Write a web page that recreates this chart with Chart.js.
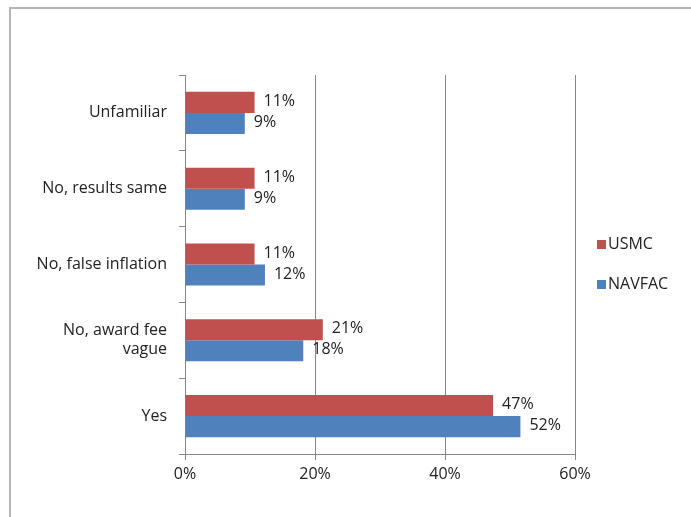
<!DOCTYPE html>
<html>
<head>
<meta charset="utf-8">
<script src="https://cdn.jsdelivr.net/npm/chart.js@4/dist/chart.umd.min.js"></script>
<style>
  body { margin: 0; background: #fff; }
  .wrap { position: relative; width: 691px; height: 517px; }
  .frame { position: absolute; left: 9px; top: 7px; width: 700px; height: 530px;
           border-left: 2px solid #b5b5b5; border-top: 2px solid #b5b5b5; }
  .legend { position: absolute; left: 597px; top: 233px; font: 16px "Open Sans", sans-serif; color: #222; }
  .legend div { height: 20px; line-height: 20px; margin-bottom: 20px; white-space: nowrap; }
  .legend span { display: inline-block; width: 9px; height: 9px; margin-right: 2px; vertical-align: 0; }
  canvas { position: absolute; left: 0; top: 0; }
</style>
</head>
<body>
<div class="wrap">
  <div class="frame"></div>
  <canvas class="my-chart" width="691" height="517"></canvas>
  <div class="legend"></div>
</div>
<script>
const answers = ["Unfamiliar", "No, results same", "No, false inflation", ["No, award fee", "vague"], "Yes"];
const usmc = [10.7, 10.7, 10.7, 21.2, 47.4];
const navfac = [9.2, 9.2, 12.3, 18.2, 51.6];
const seriesNames = ["USMC", "NAVFAC"];
const seriesColors = ["#c0504d", "#4f81bd"];
const tickValues = [0, 20, 40, 60];

const font = { family: "'Open Sans', sans-serif", size: 16 };

// value labels at the end of each bar
const barLabels = {
  id: "barLabels",
  afterDatasetsDraw(chart) {
    const ctx = chart.ctx;
    ctx.save();
    ctx.font = "16px 'Open Sans', sans-serif";
    ctx.fillStyle = "#222";
    ctx.textAlign = "left";
    ctx.textBaseline = "middle";
    chart.data.datasets.forEach((ds, i) => {
      chart.getDatasetMeta(i).data.forEach((bar, j) => {
        ctx.fillText(Math.round(ds.data[j]) + "%", bar.x + 9, bar.y - 1);
      });
    });
    ctx.restore();
  },
};

const myChart = document.querySelector(".my-chart");
new Chart(myChart, {
  type: "bar",
  data: {
    labels: answers,
    datasets: [
      { label: seriesNames[0], data: usmc, backgroundColor: seriesColors[0] },
      { label: seriesNames[1], data: navfac, backgroundColor: seriesColors[1] },
    ],
  },
  options: {
    indexAxis: "y",
    responsive: false,
    animation: false,
    categoryPercentage: 0.555,
    barPercentage: 1,
    layout: { padding: { top: 75, right: 116, left: 0, bottom: 0 } },
    plugins: { legend: { display: false }, tooltip: { enabled: false } },
    scales: {
      x: {
        min: 0,
        max: 60,
        afterBuildTicks: (scale) => { scale.ticks = tickValues.map((v) => ({ value: v })); },
        afterFit: (scale) => { scale.height = 63; },
        grid: { color: "#868686", tickLength: 6, lineWidth: 1 },
        border: { color: "#868686" },
        ticks: { font, color: "#222", padding: 5, callback: (v) => v + "%" },
      },
      y: {
        afterFit: (scale) => { scale.width = 185; },
        grid: { offset: true, drawOnChartArea: false, color: "#868686", tickLength: 6 },
        border: { color: "#868686" },
        ticks: { font, color: "#222", padding: 12 },
      },
    },
  },
  plugins: [barLabels],
});

// legend
const legend = document.querySelector(".legend");
seriesNames.forEach((name, i) => {
  const row = document.createElement("div");
  row.innerHTML = `<span style="background:${seriesColors[i]}"></span>${name}`;
  legend.appendChild(row);
});
</script>
</body>
</html>
